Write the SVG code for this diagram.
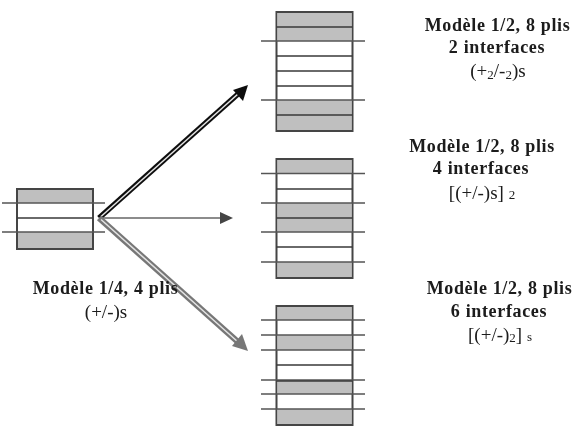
<svg xmlns="http://www.w3.org/2000/svg" width="580" height="433" viewBox="0 0 580 433">
<style>
.ply{fill:#fff;stroke:#444;stroke-width:2}
.g{fill:#bfbfbf;stroke:none}
.l{stroke:#3a3a3a;stroke-width:1.6;fill:none}
.e{stroke:#555;stroke-width:1.6;fill:none}
text{font-family:"Liberation Serif","Times New Roman",serif;font-size:19px;fill:#1a1a1a;text-anchor:middle}
.b{font-weight:bold;font-size:18px;letter-spacing:.65px}
.s{font-size:13px}
</style>
<defs>
<filter id="soft" x="-5%" y="-5%" width="110%" height="110%"><feGaussianBlur stdDeviation="0.5"/></filter>
</defs>
<rect width="580" height="433" fill="#fff"/>
<g filter="url(#soft)">
<g id="stack-quarter">
<rect class="ply" x="17" y="189" width="76" height="60"/>
<rect class="g" x="18" y="190" width="74" height="13"/><rect class="g" x="18" y="232" width="74" height="16"/>
<path class="l" d="M17 218H93"/><path class="e" d="M2 203H105M2 232H105"/>
</g>
<g id="stack-top">
<rect class="ply" x="276.500" y="12" width="76" height="119"/>
<rect class="g" x="277.500" y="13" width="74" height="28"/><rect class="g" x="277.500" y="100" width="74" height="30"/>
<path class="l" d="M276.500 27H352.500M276.500 56H352.500M276.500 71H352.500M276.500 86H352.500M276.500 115H352.500"/>
<path class="e" d="M261 41H365M261 100H365"/>
</g>
<g id="stack-middle">
<rect class="ply" x="276.500" y="159" width="76" height="119"/>
<rect class="g" x="277.500" y="160" width="74" height="13.500"/><rect class="g" x="277.500" y="203" width="74" height="29"/><rect class="g" x="277.500" y="262" width="74" height="15"/>
<path class="l" d="M276.500 189H352.500M276.500 218H352.500M276.500 247H352.500"/>
<path class="e" d="M261 173.500H365M261 203H365M261 232H365M261 262H365"/>
</g>
<g id="stack-bottom">
<rect class="ply" x="276.500" y="306" width="76" height="119"/>
<rect class="g" x="277.500" y="307" width="74" height="13"/><rect class="g" x="277.500" y="335" width="74" height="15"/><rect class="g" x="277.500" y="380" width="74" height="14"/><rect class="g" x="277.500" y="409" width="74" height="15"/>
<path class="l" d="M276.500 365H352.500"/>
<path class="e" d="M261 320H365M261 335H365M261 350H365M261 380H365M261 394H365M261 409H365"/>
<path class="l" d="M276.500 381H352.500"/>
</g>
<g id="connectors">
<path d="M99 218L238 94" stroke="#111" stroke-width="5.500" fill="none"/>
<path d="M101 216.500L238 94" stroke="#e4e4e4" stroke-width="1.500" fill="none"/>
<path d="M248 85L233 90L243 101Z" fill="#111"/>
<path d="M99 218H222" stroke="#666" stroke-width="1.300" fill="none"/>
<path d="M233 218L220 212V224Z" fill="#444"/>
<path d="M99 218L238 342" stroke="#777" stroke-width="6" fill="none"/>
<path d="M101 219.500L238 342" stroke="#e4e4e4" stroke-width="1.500" fill="none"/>
<path d="M248 351L232 346L242 334Z" fill="#777"/>
</g>
<g id="label-quarter">
<text class="b" x="105.500" y="294">Modèle 1/4, 4 plis</text>
<text x="106" y="318">(+/-)s</text>
</g>
<g id="label-top">
<text class="b" x="497.500" y="31">Modèle 1/2, 8 plis</text>
<text class="b" x="497" y="53">2 interfaces</text>
<text x="498" y="77">(+<tspan class="s" dy="2">2</tspan><tspan dy="-2">/-</tspan><tspan class="s" dy="2">2</tspan><tspan dy="-2">)s</tspan></text>
</g>
<g id="label-middle">
<text class="b" x="482" y="152">Modèle 1/2, 8 plis</text>
<text class="b" x="481" y="174">4 interfaces</text>
<text x="482" y="199">[(+/-)s] <tspan class="s">2</tspan></text>
</g>
<g id="label-bottom">
<text class="b" x="499.500" y="294">Modèle 1/2, 8 plis</text>
<text class="b" x="499" y="317">6 interfaces</text>
<text x="500" y="341">[(+/-)<tspan class="s" dy="1">2</tspan><tspan dy="-1">] </tspan><tspan class="s">s</tspan></text>
</g>
</g>
</svg>
